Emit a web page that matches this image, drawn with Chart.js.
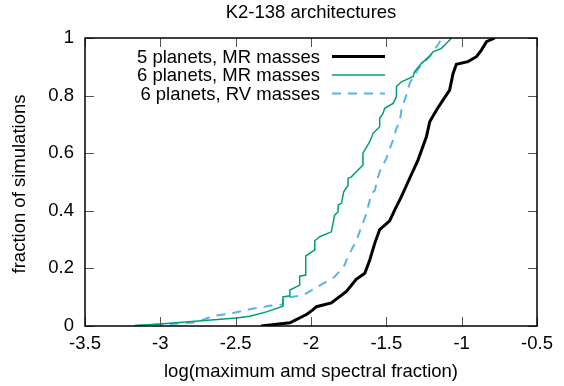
<!DOCTYPE html>
<html>
<head>
<meta charset="utf-8">
<script src="https://cdn.jsdelivr.net/npm/chart.js@4/dist/chart.umd.min.js"></script>
<style>
  html, body { margin: 0; padding: 0; background: #fff; }
  #wrap { width: 564px; height: 386px; }
</style>
</head>
<body>
<div id="wrap"><canvas id="chart"></canvas></div>
<script>
// K2-138 cumulative distributions
const labels5MR = '5 planets, MR masses';
const labels6MR = '6 planets, MR masses';
const labels6RV = '6 planets, RV masses';

const mr5X = [-2.33, -2.14, -2.03, -1.99, -1.964, -1.865, -1.765, -1.70, -1.643, -1.61, -1.577, -1.544, -1.478, -1.444, -1.40, -1.345, -1.29, -1.234, -1.212, -1.167, -1.123, -1.08, -1.057, -1.035, -0.958, -0.902, -0.869, -0.835, -0.78];
const mr5Y = [0, 0.011, 0.04, 0.055, 0.067, 0.08, 0.12, 0.162, 0.183, 0.229, 0.287, 0.335, 0.365, 0.403, 0.449, 0.513, 0.576, 0.657, 0.709, 0.75, 0.785, 0.819, 0.877, 0.909, 0.918, 0.935, 0.958, 0.987, 1.0];

const mr6X = [-3.17, -3.0, -2.495, -2.407, -2.296, -2.186, -2.186, -2.14, -2.14, -2.075, -2.075, -2.035, -2.035, -1.975, -1.975, -1.942, -1.865, -1.843, -1.82, -1.82, -1.798, -1.783, -1.754, -1.754, -1.732, -1.655, -1.655, -1.61, -1.588, -1.544, -1.544, -1.522, -1.511, -1.455, -1.433, -1.433, -1.40, -1.323, -1.312, -1.267, -1.212, -1.19, -1.134, -1.101, -1.079, -1.068];
const mr6Y = [0.002, 0.007, 0.028, 0.034, 0.049, 0.069, 0.101, 0.105, 0.125, 0.142, 0.173, 0.177, 0.243, 0.264, 0.296, 0.31, 0.327, 0.385, 0.397, 0.42, 0.426, 0.466, 0.489, 0.513, 0.518, 0.559, 0.6, 0.64, 0.669, 0.692, 0.721, 0.738, 0.756, 0.773, 0.796, 0.831, 0.848, 0.866, 0.883, 0.912, 0.937, 0.952, 0.964, 0.982, 0.993, 1.0];

const rv6X = [-3.15, -3.03, -2.87, -2.76, -2.65, -2.518, -2.407, -2.274, -2.186, -2.186, -2.053, -1.964, -1.843, -1.776, -1.765, -1.721, -1.70, -1.665, -1.632, -1.621, -1.599, -1.577, -1.555, -1.544, -1.5, -1.489, -1.455, -1.433, -1.411, -1.40, -1.378, -1.367, -1.345, -1.30, -1.278, -1.234, -1.19, -1.145, -1.126];
const rv6Y = [0.001, 0.005, 0.009, 0.013, 0.035, 0.045, 0.058, 0.07, 0.075, 0.096, 0.107, 0.134, 0.171, 0.212, 0.229, 0.275, 0.295, 0.345, 0.39, 0.414, 0.46, 0.47, 0.518, 0.536, 0.582, 0.6, 0.646, 0.686, 0.709, 0.75, 0.785, 0.802, 0.843, 0.883, 0.9, 0.924, 0.952, 0.987, 1.0];

const xTicks = [-3.5, -3, -2.5, -2, -1.5, -1, -0.5];
const yTicks = [0, 0.2, 0.4, 0.6, 0.8, 1];

const FONT = '"Liberation Sans", Arial, sans-serif';
const FSIZE = 18.5;

function pts(xs, ys) { return xs.map((x, i) => ({x: x, y: ys[i]})); }

// gnuplot-ish frame: border, inward ticks on all sides, legend, title, axis titles
const framePlugin = {
  id: 'frame',
  afterDraw(chart) {
    const ctx = chart.ctx;
    const a = chart.chartArea;
    const xs = chart.scales.x, ys = chart.scales.y;
    ctx.save();
    // ticks
    ctx.strokeStyle = '#555';
    ctx.lineWidth = 1;
    const tl = 9;
    xTicks.forEach(v => {
      const px = Math.round(xs.getPixelForValue(v)) + 0.5;
      ctx.beginPath();
      ctx.moveTo(px, a.bottom); ctx.lineTo(px, a.bottom - tl);
      ctx.moveTo(px, a.top); ctx.lineTo(px, a.top + tl);
      ctx.stroke();
    });
    yTicks.forEach(v => {
      const py = Math.round(ys.getPixelForValue(v)) + 0.5;
      ctx.beginPath();
      ctx.moveTo(a.left, py); ctx.lineTo(a.left + tl, py);
      ctx.moveTo(a.right, py); ctx.lineTo(a.right - tl, py);
      ctx.stroke();
    });
    // border
    ctx.strokeStyle = '#000';
    ctx.lineWidth = 1.5;
    ctx.strokeRect(a.left, a.top, a.right - a.left, a.bottom - a.top);

    // legend
    ctx.font = FSIZE + 'px ' + FONT;
    ctx.fillStyle = '#000';
    ctx.textAlign = 'right';
    ctx.textBaseline = 'middle';
    const rows = [56.5, 75, 93.5];
    chart.data.datasets.forEach((ds, i) => {
      const y = rows[i];
      ctx.fillText(ds.label, 320, y + 1);
      ctx.beginPath();
      ctx.strokeStyle = ds.borderColor;
      ctx.lineWidth = ds.borderWidth;
      ctx.setLineDash(ds.borderDash || []);
      ctx.moveTo(332, y); ctx.lineTo(385, y);
      ctx.stroke();
      ctx.setLineDash([]);
    });

    // title + axis titles
    ctx.textAlign = 'center';
    ctx.fillText('K2-138 architectures', (a.left + a.right) / 2, 12.5);
    ctx.fillText('log(maximum amd spectral fraction)', (a.left + a.right) / 2, 372);
    ctx.translate(20, 184);
    ctx.rotate(-Math.PI / 2);
    ctx.fillText('fraction of simulations', 0, 0);
    ctx.restore();
  }
};

new Chart(document.getElementById('chart'), {
  type: 'line',
  data: {
    datasets: [
      {label: labels5MR, data: pts(mr5X, mr5Y), borderColor: '#000000', borderWidth: 3, pointRadius: 0, tension: 0, fill: false},
      {label: labels6MR, data: pts(mr6X, mr6Y), borderColor: '#009e73', borderWidth: 1.5, pointRadius: 0, tension: 0, fill: false},
      {label: labels6RV, data: pts(rv6X, rv6Y), borderColor: '#56b4e9', borderWidth: 2, borderDash: [9, 7], pointRadius: 0, tension: 0, fill: false}
    ]
  },
  options: {
    responsive: true,
    maintainAspectRatio: false,
    animation: false,
    layout: {padding: {left: 0, right: 27, top: 38, bottom: 0}},
    plugins: {legend: {display: false}, tooltip: {enabled: false}, title: {display: false}},
    scales: {
      x: {
        type: 'linear', min: -3.5, max: -0.5,
        afterFit: s => { s.height = 60; },
        afterBuildTicks: s => { s.ticks = xTicks.map(v => ({value: v})); },
        grid: {display: false, drawTicks: false},
        border: {display: false},
        ticks: {padding: 7, color: '#000', font: {family: FONT, size: FSIZE}, maxRotation: 0, autoSkip: false, callback: v => String(v)}
      },
      y: {
        type: 'linear', min: 0, max: 1,
        afterFit: s => { s.width = 85; },
        afterBuildTicks: s => { s.ticks = yTicks.map(v => ({value: v})); },
        grid: {display: false, drawTicks: false},
        border: {display: false},
        ticks: {padding: 11, color: '#000', font: {family: FONT, size: FSIZE}, callback: v => String(v)}
      }
    }
  },
  plugins: [framePlugin]
});
</script>
</body>
</html>
